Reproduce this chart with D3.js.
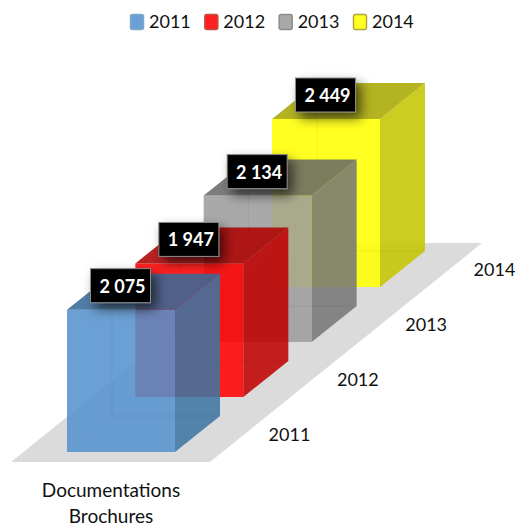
<!DOCTYPE html>
<html>
<head>
<meta charset="utf-8">
<script src="https://d3js.org/d3.v7.min.js"></script>
<style>
  html, body { margin: 0; padding: 0; background: #fff; }
  svg { display: block; }
  text { font-family: Lato, sans-serif; fill: #111; }
</style>
</head>
<body>
<div id="chart"></div>
<script>
// data
var years = ["2011", "2012", "2013", "2014"];
var values = [2075, 1947, 2134, 2449];
var valueLabels = ["2 075", "1 947", "2 134", "2 449"];
var categoryLines = ["Documentations", "Brochures"];

// colours: front, side, top, legend border
var frontColors = ["#5592ce", "#ff0000", "#9c9c9c", "#ffff00"];
var sideColors = ["#3c75a3", "#c00000", "#767676", "#c6c600"];
var topColors = ["#366a98", "#af0000", "#696969", "#a9a900"];
var legendBorders = ["#7fa6cc", "#c0503c", "#8c8c8c", "#b5a53c"];

var width = 515, height = 529;
var faceOpacity = 0.87;

var svg = d3.select("#chart").append("svg")
    .attr("width", width)
    .attr("height", height);

var defs = svg.append("defs");
var shadow = defs.append("filter")
    .attr("id", "labelShadow")
    .attr("x", "-50%").attr("y", "-80%")
    .attr("width", "220%").attr("height", "280%");
shadow.append("feDropShadow")
    .attr("dx", 5).attr("dy", 6)
    .attr("stdDeviation", 6)
    .attr("flood-color", "#000")
    .attr("flood-opacity", 0.6);

// the year axis runs into the picture, so it has an x and a y scale
var depthX = d3.scalePoint().domain(years).range([67, 272]);
var depthY = d3.scalePoint().domain(years).range([452, 287]);
var heightScale = d3.scaleLinear().domain([0, 2449]).range([0, 168]);

var boxWidth = 108, offX = 45, offY = -36;
var line = d3.line();

// floor
var floorFirst = { x: depthX("2011") - 56, y: depthY("2011") + 10 };
var floorSpanX = depthX("2014") - depthX("2011");
var floorSpanY = depthY("2014") - depthY("2011");
svg.append("path")
    .attr("d", line([
      [floorFirst.x, floorFirst.y],
      [floorFirst.x + 199, floorFirst.y],
      [floorFirst.x + 199 + floorSpanX * 1.327, floorFirst.y + floorSpanY * 1.327],
      [floorFirst.x + floorSpanX * 1.327, floorFirst.y + floorSpanY * 1.327]
    ]) + "Z")
    .attr("fill", "#dcdbdc");

// boxes, furthest first so the near ones sit on top
var order = d3.range(years.length).reverse();
order.forEach(function(i) {
  var x0 = depthX(years[i]), y0 = depthY(years[i]);
  var h = heightScale(values[i]);
  var x1 = x0 + boxWidth, top = y0 - h;
  var g = svg.append("g").attr("class", "box");

  g.append("path") // front
    .attr("d", line([[x0, y0], [x1, y0], [x1, top], [x0, top]]) + "Z")
    .attr("fill", frontColors[i]).attr("fill-opacity", faceOpacity);
  g.append("path") // side
    .attr("d", line([[x1, y0], [x1 + offX, y0 + offY], [x1 + offX, top + offY], [x1, top]]) + "Z")
    .attr("fill", sideColors[i]).attr("fill-opacity", faceOpacity);
  g.append("path") // top
    .attr("d", line([[x0, top], [x1, top], [x1 + offX, top + offY], [x0 + offX, top + offY]]) + "Z")
    .attr("fill", topColors[i]).attr("fill-opacity", faceOpacity);
  g.append("path") // back edges showing through
    .attr("d", line([[x0 + offX, top + offY], [x0 + offX, y0 + offY], [x1 + offX, y0 + offY]]))
    .attr("fill", "none").attr("stroke", "#000").attr("stroke-opacity", 0.05);
  g.append("path")
    .attr("d", line([[x0, y0], [x0 + offX, y0 + offY]]))
    .attr("fill", "none").attr("stroke", "#000").attr("stroke-opacity", 0.03);
});

// value labels
order.forEach(function(i) {
  var x0 = depthX(years[i]);
  var top = depthY(years[i]) - heightScale(values[i]);
  var g = svg.append("g")
      .attr("transform", "translate(" + (x0 + 23.5) + "," + (top - 41) + ")");
  g.append("rect")
    .attr("width", 60).attr("height", 34)
    .attr("fill", "#000")
    .attr("stroke", "#8a8a8a").attr("stroke-width", 1)
    .attr("filter", "url(#labelShadow)");
  g.append("text")
    .attr("x", 32).attr("y", 24)
    .attr("text-anchor", "middle")
    .attr("font-size", 18).attr("font-weight", 700)
    .style("fill", "#fff")
    .text(valueLabels[i]);
});

// year labels along the floor
svg.selectAll("text.year").data(years).enter().append("text")
    .attr("class", "year")
    .attr("x", function(d) { return depthX(d) + 222.5; })
    .attr("y", function(d) { return depthY(d) - 11; })
    .attr("text-anchor", "middle")
    .attr("font-size", 18)
    .text(function(d) { return d; });

// category label
svg.selectAll("text.cat").data(categoryLines).enter().append("text")
    .attr("class", "cat")
    .attr("x", 111)
    .attr("y", function(d, i) { return 497 + i * 26; })
    .attr("text-anchor", "middle")
    .attr("font-size", 19)
    .text(function(d) { return d; });

// legend
var legendX = d3.scalePoint().domain(years).range([130, 353]);
var legend = svg.selectAll("g.legend").data(years).enter().append("g")
    .attr("class", "legend")
    .attr("transform", function(d) { return "translate(" + legendX(d) + ",0)"; });
legend.append("rect")
    .attr("x", 0.5).attr("y", 14.5)
    .attr("width", 13).attr("height", 15)
    .attr("rx", 2)
    .attr("fill", function(d, i) { return frontColors[i]; })
    .attr("fill-opacity", faceOpacity)
    .attr("stroke", function(d, i) { return legendBorders[i]; })
    .attr("stroke-width", 1.5);
legend.append("text")
    .attr("x", 19).attr("y", 28)
    .attr("font-size", 18)
    .text(function(d) { return d; });
</script>
</body>
</html>
